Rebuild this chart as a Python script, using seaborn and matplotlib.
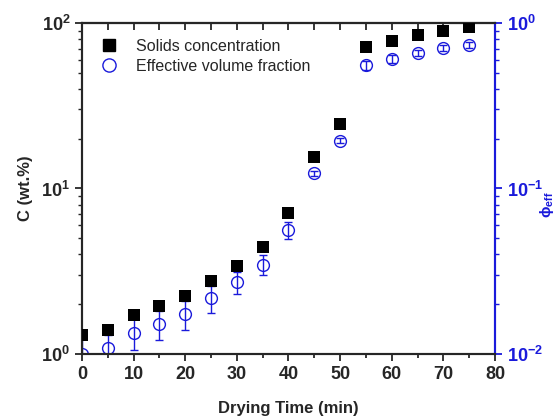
import numpy as np
import pandas as pd
import matplotlib
matplotlib.use("Agg")
import matplotlib.pyplot as plt
import seaborn as sns
from matplotlib.lines import Line2D
from matplotlib.ticker import LogLocator, MultipleLocator, NullFormatter

time_min = [0, 5, 10, 15, 20, 25, 30, 35, 40, 45, 50, 55, 60, 65, 70, 75]
solids_c = [1.30, 1.40, 1.72, 1.95, 2.23, 2.76, 3.42, 4.45, 7.14, 15.4, 24.6,
            71.9, 77.7, 85.0, 89.7, 94.2]
phi_eff = [0.0100, 0.0109, 0.01345, 0.0152, 0.0174, 0.0217, 0.0271, 0.0347,
           0.0561, 0.1236, 0.1945, 0.557, 0.606, 0.661, 0.703, 0.736]
phi_err = [0.0035, 0.0022, 0.0028, 0.0030, 0.0034, 0.0040, 0.0042, 0.0047,
           0.0068, 0.004, 0.006, 0.035, 0.03, 0.03, 0.03, 0.03]

sns.set_style("ticks")
plt.rcParams['font.family'] = ['Liberation Sans', 'DejaVu Sans']
plt.rcParams['mathtext.fontset'] = 'custom'
plt.rcParams['mathtext.rm'] = 'Liberation Sans'
plt.rcParams['mathtext.bf'] = 'Liberation Sans:bold'
plt.rcParams['mathtext.it'] = 'Liberation Sans:italic'
plt.rcParams['axes.unicode_minus'] = False

df = pd.DataFrame({"t": time_min, "C": solids_c, "phi": phi_eff, "err": phi_err})

fig = plt.figure(figsize=(5.58, 4.17), dpi=100)
ax = fig.add_axes([0.147, 0.151, 0.740, 0.794])
ax2 = ax.twinx()

blue = "#1a1adb"

sns.scatterplot(data=df, x="t", y="C", ax=ax, marker="s", s=75, color="black",
                edgecolor="black", linewidth=0, zorder=3, legend=False)
ax2.errorbar(df["t"], df["phi"], yerr=df["err"], fmt="o", mfc="none", mec=blue,
             ms=8.5, mew=1.0, ecolor=blue, elinewidth=1.0, capsize=3, capthick=1.0,
             zorder=2)

ax.set_yscale("log")
ax2.set_yscale("log")
ax.set_xlim(0, 80)
ax.set_ylim(1, 100)
ax2.set_ylim(0.01, 1)

ax.xaxis.set_major_locator(MultipleLocator(10))
ax.xaxis.set_minor_locator(MultipleLocator(5))
ax.yaxis.set_major_locator(LogLocator(base=10, numticks=5))
ax.yaxis.set_minor_locator(LogLocator(base=10, subs=np.arange(2, 10), numticks=10))
ax.yaxis.set_minor_formatter(NullFormatter())
ax2.yaxis.set_major_locator(LogLocator(base=10, numticks=5))
ax2.yaxis.set_minor_locator(LogLocator(base=10, subs=np.arange(2, 10), numticks=10))
ax2.yaxis.set_minor_formatter(NullFormatter())

for a in (ax, ax2):
    for s in a.spines.values():
        s.set_linewidth(1.5)
        s.set_visible(True)
ax2.spines["right"].set_color(blue)
ax.spines["right"].set_color(blue)

ax.tick_params(axis="x", which="both", direction="out", top=False, labelsize=13, width=1.3)
ax.tick_params(axis="x", which="major", length=5)
ax.tick_params(axis="x", which="minor", length=3)
ax.tick_params(axis="y", which="major", direction="out", length=5, width=1.3, labelsize=13)
ax.tick_params(axis="y", which="minor", direction="out", length=3, width=1.0)
ax2.tick_params(axis="y", which="major", direction="out", length=5, width=1.3, labelsize=13,
                colors=blue)
ax2.tick_params(axis="y", which="minor", direction="out", length=3, width=1.0, colors=blue)

# top inward ticks (mirror)
secx = ax.secondary_xaxis("top")
secx.xaxis.set_major_locator(MultipleLocator(10))
secx.xaxis.set_minor_locator(MultipleLocator(5))
secx.tick_params(axis="x", which="both", direction="in", labeltop=False, width=1.3)
secx.tick_params(axis="x", which="major", length=5)
secx.tick_params(axis="x", which="minor", length=5)
secx.spines["top"].set_linewidth(1.5)

for lab in ax.get_xticklabels() + ax.get_yticklabels():
    lab.set_fontweight("bold")
for lab in ax2.get_yticklabels():
    lab.set_fontweight("bold")
    lab.set_color(blue)

ax.set_xlabel("Drying Time (min)", fontsize=12, fontweight="bold", labelpad=13)
ax.set_ylabel("C (wt.%)", fontsize=12, fontweight="bold", labelpad=6)
ax2.set_ylabel(r"$\mathbf{\phi}_{\mathbf{eff}}$", fontsize=11, color=blue)
ax2.yaxis.set_label_coords(1.105, 0.45)

handles = [
    Line2D([], [], marker="s", color="black", ls="none", ms=8.5),
    Line2D([], [], marker="o", mfc="none", mec=blue, ls="none", ms=9.5, mew=1.0),
]
ax.legend(handles, ["Solids concentration", "Effective volume fraction"],
          loc="upper left", frameon=False, fontsize=11.5, handletextpad=0.7,
          borderaxespad=0.3, labelspacing=0.3, bbox_to_anchor=(0.0, 0.985))

ax.set_zorder(ax2.get_zorder() + 1)
ax.patch.set_visible(False)

fig.savefig("out.png", dpi=100)
